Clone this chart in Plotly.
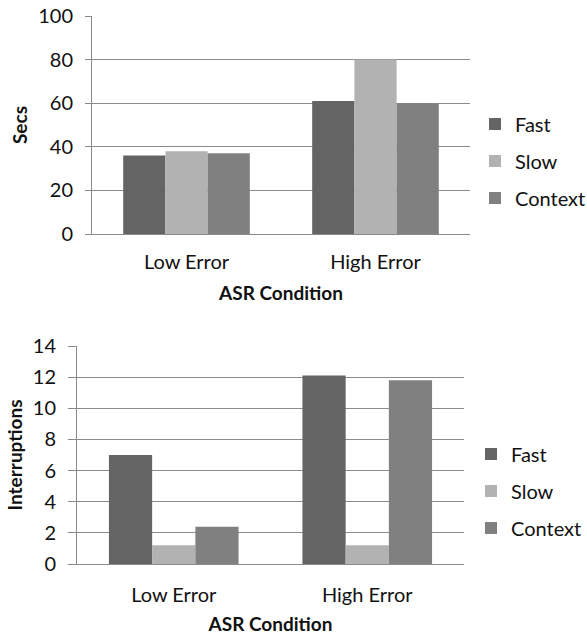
import plotly.graph_objects as go

categories = ["Low Error", "High Error"]
series = ["Fast", "Slow", "Context"]
secs_fast = [36, 61]
secs_slow = [38, 80]
secs_context = [37, 60]
int_fast = [7, 12.1]
int_slow = [1.2, 1.2]
int_context = [2.4, 11.8]
colors = {"Fast": "#646464", "Slow": "#b2b2b2", "Context": "#808080"}

W, H = 587, 636
FONT = "Lato"
GRID = "#8a8a8a"

fig = go.Figure()
for name, vals in zip(series, [secs_fast, secs_slow, secs_context]):
    fig.add_trace(go.Bar(x=categories, y=vals, name=name, marker_color=colors[name],
                         marker_line_width=0, xaxis="x", yaxis="y",
                         legend="legend", legendgroup="a" + name))
for name, vals in zip(series, [int_fast, int_slow, int_context]):
    fig.add_trace(go.Bar(x=categories, y=vals, name=name, marker_color=colors[name],
                         marker_line_width=0, xaxis="x2", yaxis="y2",
                         legend="legend2", legendgroup="b" + name))

def px_x(p):
    return p / W

def px_y(p):
    return 1 - p / H

tickfont = dict(family=FONT, size=20, color="#111")
titlefont = dict(family=FONT, size=19, color="#111", weight="bold")

yax_common = dict(showgrid=True, gridcolor=GRID, gridwidth=1, showline=True, linecolor=GRID,
                  linewidth=1, ticks="outside", tickcolor=GRID, tickfont=tickfont,
                  zeroline=False, fixedrange=True, automargin=False)
xax_common = dict(showline=True, linecolor=GRID, linewidth=1, ticks="", tickfont=tickfont,
                  showgrid=False, fixedrange=True, automargin=False)

fig.update_layout(
    width=W, height=H,
    margin=dict(l=0, r=0, t=0, b=0, autoexpand=False),
    paper_bgcolor="white", plot_bgcolor="white",
    barmode="group", bargap=0.33, bargroupgap=0,
    font=dict(family=FONT, color="#111"),
    xaxis=dict(domain=[px_x(92), px_x(470)], anchor="y", ticklabelstandoff=10,
               title=dict(text="ASR Condition", font=titlefont, standoff=14), **xax_common),
    yaxis=dict(domain=[px_y(234), px_y(16)], anchor="x", range=[0, 100], dtick=20,
               ticklen=6, ticklabelstandoff=8,
               title=dict(text="Secs", font=titlefont, standoff=5), **yax_common),
    xaxis2=dict(domain=[px_x(77), px_x(464)], anchor="y2", ticklabelstandoff=13,
                title=dict(text="ASR Condition", font=titlefont, standoff=12), **xax_common),
    yaxis2=dict(domain=[px_y(564), px_y(346)], anchor="x2", range=[0, 14], dtick=2,
                ticklen=8, ticklabelstandoff=8,
                title=dict(text="Interruptions", font=titlefont, standoff=5), **yax_common),
    legend=dict(x=1 + 4 / W, y=px_y(161), xanchor="right", yanchor="middle",
                font=dict(family=FONT, size=20, color="#111"), traceorder="grouped",
                tracegroupgap=8, itemwidth=30, bgcolor="rgba(0,0,0,0)"),
    legend2=dict(x=1, y=px_y(491), xanchor="right", yanchor="middle",
                 font=dict(family=FONT, size=20, color="#111"), traceorder="grouped",
                 tracegroupgap=8, itemwidth=30, bgcolor="rgba(0,0,0,0)"),
)

fig.write_html("out.html")
